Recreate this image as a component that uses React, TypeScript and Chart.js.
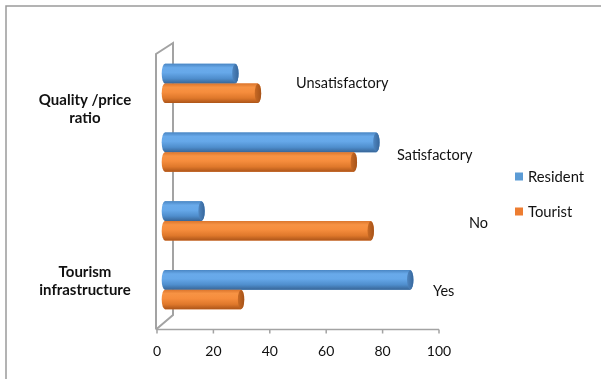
import { useEffect, useRef } from "react";
import { Chart, registerables } from "chart.js";

Chart.register(...registerables);

// Survey answers (%) by respondent group
const categories = ["Unsatisfactory", "Satisfactory", "No", "Yes"];
const residentValues = [25, 75, 13, 87];
const touristValues = [33, 67, 73, 27];
const seriesNames = ["Resident", "Tourist"];
const groupLabels = [
  ["Quality /price", "ratio"],
  ["Tourism", "infrastructure"],
];
const axisMin = 0;
const axisMax = 100;
const axisStep = 20;

const FONT = "Lato, 'Open Sans', sans-serif";
const GRID_GREY = "#a3a3a3";

const palettes = [
  {
    flat: "#5b9bd5",
    body: [
      [0, "#4a86c4"],
      [0.2, "#69aaea"],
      [0.45, "#66a8e9"],
      [0.75, "#4f8ecd"],
      [1, "#386698"],
    ],
    cap: ["#37679c", "#4f86c0"],
  },
  {
    flat: "#ed7d31",
    body: [
      [0, "#da752c"],
      [0.2, "#f79344"],
      [0.45, "#f68d3d"],
      [0.75, "#df782b"],
      [1, "#ad5519"],
    ],
    cap: ["#a5531a", "#c96a24"],
  },
];

// Gray 3-D wall outline plus the front value axis line with its tick marks
const framePlugin = {
  id: "frame3d",
  beforeDatasetsDraw(chart: any) {
    const { ctx, chartArea } = chart;
    const xs = chart.scales.x;
    const fx = xs.left - 1;
    const bx = fx + 17;
    const topFront = chartArea.top + 5;
    const topBack = chartArea.top - 6;
    const botFront = chartArea.bottom + 5.5;
    const botBack = chartArea.bottom - 9;
    ctx.save();
    ctx.strokeStyle = GRID_GREY;
    ctx.lineWidth = 2;
    ctx.beginPath();
    ctx.moveTo(fx, botFront);
    ctx.lineTo(fx, topFront);
    ctx.lineTo(bx, topBack);
    ctx.lineTo(bx, botBack);
    ctx.lineTo(fx, botFront);
    ctx.stroke();

    ctx.lineWidth = 1.5;
    ctx.beginPath();
    ctx.moveTo(fx, botFront);
    ctx.lineTo(xs.right, botFront);
    for (let v = axisMin; v <= axisMax; v += axisStep) {
      const px = xs.getPixelForValue(v);
      ctx.moveTo(px, botFront);
      ctx.lineTo(px, botFront + 4);
    }
    ctx.stroke();
    ctx.restore();
  },
};

// Repaints every bar as a shaded cylinder with an elliptical end face
const cylinderPlugin = {
  id: "cylinders",
  afterDatasetsDraw(chart: any) {
    const ctx: CanvasRenderingContext2D = chart.ctx;
    chart.data.datasets.forEach((_ds: any, di: number) => {
      const meta = chart.getDatasetMeta(di);
      const pal = palettes[di];
      meta.data.forEach((el: any) => {
        const { x, y, base, height } = el.getProps(["x", "y", "base", "height"], true);
        const ry = height / 2;
        const rx = 3.2;
        const top = y - ry;
        const bottom = y + ry;
        ctx.save();
        const g = ctx.createLinearGradient(0, top, 0, bottom);
        pal.body.forEach(([o, c]) => g.addColorStop(o as number, c as string));
        ctx.beginPath();
        ctx.moveTo(base, top);
        ctx.lineTo(x, top);
        ctx.ellipse(x, y, rx, ry, 0, -Math.PI / 2, Math.PI / 2);
        ctx.lineTo(base, bottom);
        ctx.ellipse(base, y, rx, ry, 0, Math.PI / 2, (Math.PI * 3) / 2);
        ctx.closePath();
        ctx.fillStyle = g;
        ctx.fill();

        const cg = ctx.createLinearGradient(x - rx, 0, x + rx, 0);
        cg.addColorStop(0, pal.cap[1]);
        cg.addColorStop(1, pal.cap[0]);
        ctx.beginPath();
        ctx.ellipse(x, y, rx, ry - 0.3, 0, 0, Math.PI * 2);
        ctx.fillStyle = cg;
        ctx.fill();
        ctx.restore();
      });
    });
  },
};

// Category names, group names, legend and outer chart border
const labelsPlugin = {
  id: "labels",
  afterDraw(chart: any) {
    const ctx: CanvasRenderingContext2D = chart.ctx;
    const ys = chart.scales.y;
    ctx.save();
    ctx.fillStyle = "#111";
    ctx.textBaseline = "middle";

    // inner category names to the right of the bars
    const catX = [296, 397, 469, 433];
    const catDy = [0, 3, 2, 2];
    ctx.font = `14.5px ${FONT}`;
    ctx.textAlign = "left";
    categories.forEach((c, i) => {
      ctx.fillText(c, catX[i], ys.getPixelForValue(i) + catDy[i]);
    });

    // outer group names on the left
    ctx.font = `bold 15px ${FONT}`;
    ctx.textAlign = "center";
    const groupY = [100, 272];
    groupLabels.forEach((lines, gi) => {
      lines.forEach((t, li) => ctx.fillText(t, 85, groupY[gi] + li * 18));
    });

    // legend
    ctx.font = `14.8px ${FONT}`;
    ctx.textAlign = "left";
    const legY = [177, 212];
    seriesNames.forEach((name, i) => {
      ctx.fillStyle = palettes[i].flat;
      ctx.fillRect(515, legY[i] - 4.5, 8, 8);
      ctx.fillStyle = "#111";
      ctx.fillText(name, 528, legY[i]);
    });

    // chart border (left and top edges)
    ctx.strokeStyle = "#9a9a9a";
    ctx.lineWidth = 1.5;
    ctx.beginPath();
    ctx.moveTo(6, chart.height);
    ctx.lineTo(6, 6);
    ctx.lineTo(chart.width, 6);
    ctx.stroke();
    ctx.restore();
  },
};

export default function App() {
  const canvasRef = useRef<HTMLCanvasElement | null>(null);

  useEffect(() => {
    const canvas = canvasRef.current;
    if (!canvas) return;
    const chart = new Chart(canvas, {
      type: "bar",
      data: {
        labels: categories,
        datasets: [
          {
            label: seriesNames[0],
            data: residentValues,
            backgroundColor: palettes[0].flat,
            xAxisID: "xb",
          },
          {
            label: seriesNames[1],
            data: touristValues,
            backgroundColor: palettes[1].flat,
            xAxisID: "xb",
          },
        ],
      },
      options: {
        indexAxis: "y",
        responsive: false,
        devicePixelRatio: 1,
        animation: false,
        datasets: {
          bar: { categoryPercentage: 0.57, barPercentage: 1 },
        },
        layout: { padding: { left: 157, right: 162, top: 49, bottom: 0 } },
        plugins: {
          legend: { display: false },
          tooltip: { enabled: false },
          title: { display: false },
        },
        scales: {
          y: { type: "category", display: false },
          // bars sit at mid-depth of the 3-D box, slightly behind the front axis
          xb: {
            type: "linear",
            display: false,
            min: axisMin - 2.8,
            max: axisMax - 2.8,
          },
          x: {
            type: "linear",
            position: "bottom",
            min: axisMin,
            max: axisMax,
            grid: { display: false, drawTicks: false },
            border: { display: false },
            ticks: {
              stepSize: axisStep,
              padding: 19,
              color: "#111",
              font: { family: FONT, size: 14 },
            },
            afterFit(scale: any) {
              scale.height = 55;
            },
          },
        },
      },
      plugins: [framePlugin, cylinderPlugin, labelsPlugin],
    } as any);
    return () => chart.destroy();
  }, []);

  return (
    <div
      style={{
        position: "absolute",
        left: 0,
        top: 0,
        width: 601,
        height: 379,
        background: "#fff",
      }}
    >
      <canvas ref={canvasRef} width={601} height={379} />
    </div>
  );
}
